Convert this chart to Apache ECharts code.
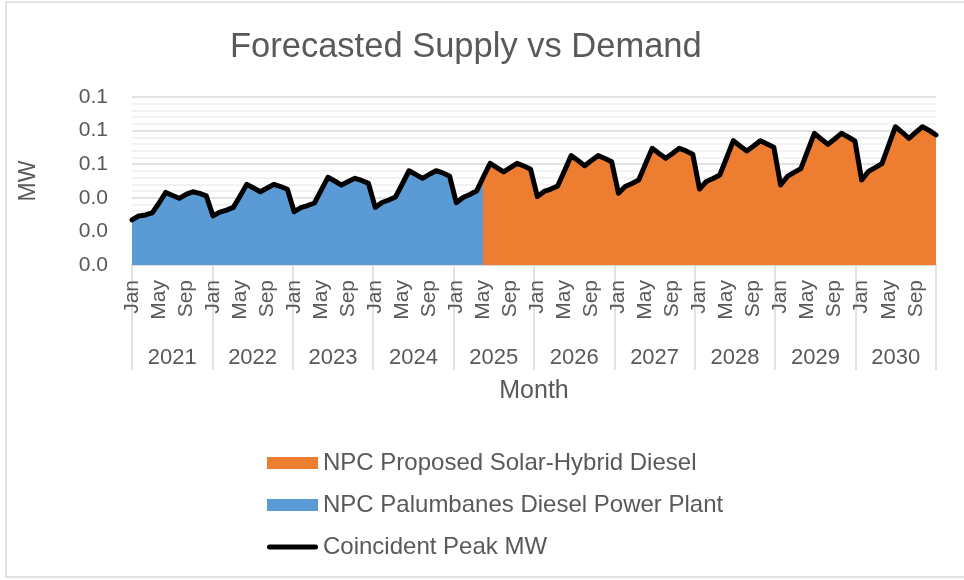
<!DOCTYPE html>
<html>
<head>
<meta charset="utf-8">
<script src="https://cdn.jsdelivr.net/npm/echarts@6/dist/echarts.min.js"></script>
<style>
  html, body { margin: 0; padding: 0; background: #fff; }
  #chart { width: 964px; height: 580px; }
</style>
</head>
<body>
<div id="chart"></div>
<script>
  // category labels
  const years = ['2021', '2022', '2023', '2024', '2025', '2026', '2027', '2028', '2029', '2030']
  const monthNames = ['Jan', 'Feb', 'Mar', 'Apr', 'May', 'Jun', 'Jul', 'Aug', 'Sep', 'Oct', 'Nov', 'Dec']
  const yTicks = [0, 0.02, 0.04, 0.06, 0.08, 0.1]

  // coincident peak demand, MW, Jan..Dec of each year
  const peak2021 = [0.0268, 0.0292, 0.0298, 0.0310, 0.0369, 0.0432, 0.0414, 0.0397, 0.0420, 0.0436, 0.0426, 0.0411]
  const peak2022 = [0.0292, 0.0315, 0.0327, 0.0343, 0.0411, 0.0480, 0.0458, 0.0436, 0.0458, 0.0480, 0.0467, 0.0451]
  const peak2023 = [0.0317, 0.0342, 0.0354, 0.0369, 0.0446, 0.0522, 0.0500, 0.0476, 0.0497, 0.0516, 0.0503, 0.0486]
  const peak2024 = [0.0343, 0.0372, 0.0387, 0.0405, 0.0482, 0.0561, 0.0539, 0.0516, 0.0539, 0.0561, 0.0548, 0.0530]
  const peak2025 = [0.0371, 0.0402, 0.0420, 0.0440, 0.0524, 0.0605, 0.0580, 0.0555, 0.0580, 0.0605, 0.0589, 0.0570]
  const peak2026 = [0.0407, 0.0438, 0.0452, 0.0470, 0.0560, 0.0651, 0.0622, 0.0591, 0.0622, 0.0651, 0.0634, 0.0615]
  const peak2027 = [0.0427, 0.0467, 0.0485, 0.0506, 0.0601, 0.0695, 0.0664, 0.0635, 0.0664, 0.0695, 0.0679, 0.0659]
  const peak2028 = [0.0452, 0.0497, 0.0515, 0.0536, 0.0637, 0.0740, 0.0708, 0.0679, 0.0708, 0.0740, 0.0720, 0.0701]
  const peak2029 = [0.0476, 0.0527, 0.0551, 0.0574, 0.0679, 0.0784, 0.0750, 0.0718, 0.0750, 0.0784, 0.0762, 0.0738]
  const peak2030 = [0.0506, 0.0557, 0.0580, 0.0604, 0.0714, 0.0823, 0.0789, 0.0754, 0.0789, 0.0823, 0.0801, 0.0774]

  const peak = [].concat(peak2021, peak2022, peak2023, peak2024, peak2025,
    peak2026, peak2027, peak2028, peak2029, peak2030)
  const months = []
  years.forEach(() => monthNames.forEach(m => months.push(m)))

  // supply switches from the existing plant to the proposed one in May 2025
  const switchIndex = 52
  const palumbanes = peak.map((v, i) => (i <= switchIndex ? v : null))
  const solarHybrid = peak.map((v, i) => (i >= switchIndex - 1 ? v : null))

  const font = "'Liberation Sans', Arial, sans-serif"
  const textColor = '#595959'
  const gridColor = '#d9d9d9'
  const blue = '#5b9bd5'
  const orange = '#ed7d31'

  let chart = echarts.init(document.getElementById('chart'), null, {renderer: 'canvas'})
  chart.setOption({
    animation: false,
    textStyle: {fontFamily: font},
    title: {
      text: 'Forecasted Supply vs Demand',
      left: 230,
      top: 30,
      padding: 0,
      textStyle: {fontSize: 34.5, fontWeight: 'normal', color: textColor, fontFamily: font}
    },
    graphic: [{
      type: 'rect',
      shape: {x: 6, y: 2, width: 1000, height: 575},
      style: {fill: 'none', stroke: gridColor, lineWidth: 1.5},
      silent: true
    }],
    grid: {left: 132, right: 28, top: 97, bottom: 315, containLabel: false},
    legend: {
      orient: 'vertical',
      left: 262,
      top: 446,
      itemWidth: 51,
      itemHeight: 12,
      itemGap: 18,
      textStyle: {fontSize: 24, color: textColor, fontFamily: font},
      data: [
        {name: 'NPC Proposed Solar-Hybrid Diesel', icon: 'rect', itemStyle: {color: orange}},
        {name: 'NPC Palumbanes Diesel Power Plant', icon: 'rect', itemStyle: {color: blue}},
        {
          name: 'Coincident Peak MW',
          icon: 'path://M0,0 M51,12 M2.5,3.5 L48.5,3.5 A2.5,2.5 0 0 1 48.5,8.5 L2.5,8.5 A2.5,2.5 0 0 1 2.5,3.5 Z',
          itemStyle: {color: '#000'}
        }
      ]
    },
    visualMap: {
      show: false,
      type: 'piecewise',
      seriesIndex: [0, 1],
      dimension: 0,
      pieces: [
        {gte: 0, lt: switchIndex - 0.5, color: blue},
        {gte: switchIndex - 0.5, lte: months.length - 1, color: orange}
      ]
    },
    xAxis: [
      {
        type: 'category',
        data: months,
        boundaryGap: false,
        name: 'Month',
        nameLocation: 'middle',
        nameGap: 114,
        nameTextStyle: {fontSize: 25, color: textColor},
        axisLine: {lineStyle: {color: gridColor, width: 1.5}},
        axisTick: {show: false},
        axisLabel: {interval: 3, rotate: 90, margin: 15, fontSize: 21, color: textColor}
      },
      {
        type: 'category',
        data: years,
        boundaryGap: true,
        position: 'bottom',
        axisLine: {show: false},
        axisTick: {show: true, interval: 0, length: 105, lineStyle: {color: gridColor, width: 1.5}},
        axisLabel: {interval: 0, margin: 82, fontSize: 22, color: textColor}
      }
    ],
    yAxis: {
      type: 'value',
      min: yTicks[0],
      max: yTicks[yTicks.length - 1],
      interval: 0.02,
      name: 'MW',
      nameLocation: 'middle',
      nameGap: 92,
      nameTextStyle: {fontSize: 23, color: textColor},
      axisLine: {show: false},
      axisTick: {show: false},
      axisLabel: {margin: 24, fontSize: 21, color: textColor, formatter: v => v.toFixed(1)},
      splitLine: {lineStyle: {color: gridColor, width: 1.5}},
      minorTick: {show: false, splitNumber: 5},
      minorSplitLine: {show: true, lineStyle: {color: '#eeeeee', width: 1.5}}
    },
    series: [
      {
        name: 'NPC Palumbanes Diesel Power Plant',
        type: 'line',
        data: palumbanes,
        symbol: 'none',
        lineStyle: {width: 0},
        areaStyle: {opacity: 1},
        itemStyle: {color: blue},
        z: 2
      },
      {
        name: 'NPC Proposed Solar-Hybrid Diesel',
        type: 'line',
        data: solarHybrid,
        symbol: 'none',
        lineStyle: {width: 0},
        areaStyle: {opacity: 1},
        itemStyle: {color: orange},
        z: 2
      },
      {
        name: 'Coincident Peak MW',
        type: 'line',
        data: peak,
        symbol: 'none',
        itemStyle: {color: '#000'},
        lineStyle: {color: '#000', width: 5, cap: 'round', join: 'round'},
        z: 3
      }
    ]
  })
</script>
</body>
</html>
